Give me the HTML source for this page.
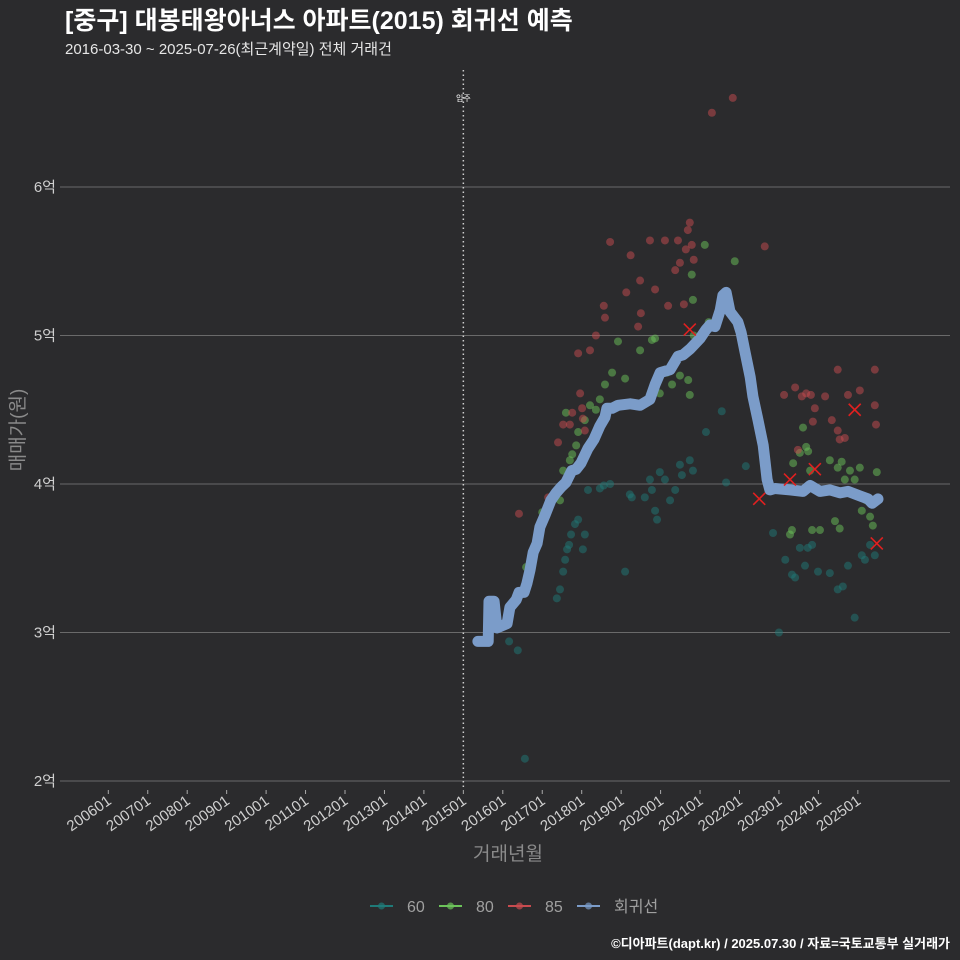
<!DOCTYPE html>
<html><head><meta charset="utf-8"><style>
html,body{margin:0;padding:0;background:#2b2b2d;}
svg{display:block;font-family:"Liberation Sans","Noto Sans CJK KR",sans-serif;}
</style></head><body>
<svg id="chart" width="960" height="960" viewBox="0 0 960 960" xmlns="http://www.w3.org/2000/svg">
<rect width="960" height="960" fill="#2b2b2d"/>
<text x="65" y="29" fill="#ffffff" font-size="25" font-weight="bold">[중구] 대봉태왕아너스 아파트(2015) 회귀선 예측</text>
<text x="65" y="54" fill="#e6e6e6" font-size="15">2016-03-30 ~ 2025-07-26(최근계약일) 전체 거래건</text>
<g id="grid"></g>
<g id="xaxis"></g>
<g id="yaxis"></g>
<g id="points"></g>
<g id="line"></g>
<g id="marks"></g>
<text x="0" y="0" transform="translate(24,430) rotate(-90)" text-anchor="middle" fill="#8a8a8a" font-size="19">매매가(원)</text>
<text x="508" y="860" text-anchor="middle" fill="#8a8a8a" font-size="19">거래년월</text>
<g id="legend"></g>
<text x="950" y="948" text-anchor="end" fill="#ffffff" font-size="13" font-weight="bold">©디아파트(dapt.kr) / 2025.07.30 / 자료=국토교통부 실거래가</text>
</svg>
<script>
const yTicks=[2,3,4,5,6];
const xTickYears=[2006,2007,2008,2009,2010,2011,2012,2013,2014,2015,2016,2017,2018,2019,2020,2021,2022,2023,2024,2025];
const moveInYear=2015.0;
const lineDates=[2015.37,2015.63,2015.65,2015.78,2015.85,2016.11,2016.18,2016.34,2016.41,2016.54,2016.61,2016.69,2016.77,2016.87,2016.94,2017.07,2017.22,2017.35,2017.48,2017.60,2017.75,2017.86,2017.98,2018.16,2018.31,2018.46,2018.59,2018.64,2018.77,2018.92,2019.23,2019.48,2019.73,2019.86,2019.99,2020.24,2020.44,2020.57,2020.75,2021.00,2021.15,2021.25,2021.38,2021.51,2021.58,2021.66,2021.76,2021.96,2022.04,2022.14,2022.27,2022.34,2022.47,2022.60,2022.70,2022.77,2022.90,2023.28,2023.61,2023.79,2024.04,2024.29,2024.55,2024.75,2025.05,2025.26,2025.36,2025.51];
const lineValues=[2.94,2.94,3.21,3.21,3.03,3.06,3.17,3.22,3.27,3.27,3.33,3.42,3.54,3.60,3.71,3.79,3.89,3.94,3.98,4.01,4.09,4.10,4.14,4.24,4.30,4.39,4.45,4.51,4.51,4.53,4.54,4.53,4.57,4.67,4.75,4.77,4.86,4.87,4.91,4.98,5.04,5.07,5.06,5.17,5.27,5.29,5.16,5.09,5.02,4.89,4.72,4.59,4.43,4.26,4.03,3.96,3.97,3.96,3.95,3.99,3.95,3.96,3.94,3.95,3.92,3.90,3.87,3.90];
const dates60=[2016.16,2016.38,2016.56,2016.72,2017.37,2017.45,2017.53,2017.58,2017.63,2017.68,2017.73,2017.83,2017.91,2018.03,2018.08,2018.16,2018.46,2018.56,2018.72,2019.10,2019.22,2019.27,2019.60,2019.73,2019.78,2019.86,2019.91,2019.98,2020.11,2020.24,2020.37,2020.49,2020.54,2020.74,2020.82,2021.15,2021.55,2021.66,2022.16,2022.85,2023.00,2023.16,2023.33,2023.41,2023.53,2023.66,2023.73,2023.84,2023.99,2024.29,2024.49,2024.62,2024.75,2024.92,2025.10,2025.18,2025.31,2025.43];
const values60=[2.94,2.88,2.15,3.43,3.23,3.29,3.41,3.49,3.56,3.59,3.66,3.73,3.76,3.56,3.66,3.96,3.97,3.99,4.00,3.41,3.93,3.91,3.91,4.03,3.96,3.82,3.76,4.08,4.03,3.89,3.96,4.13,4.06,4.16,4.09,4.35,4.49,4.01,4.12,3.67,3.00,3.49,3.39,3.37,3.57,3.45,3.57,3.59,3.41,3.40,3.29,3.31,3.45,3.10,3.52,3.49,3.59,3.52];
const dates80=[2016.59,2017.00,2017.15,2017.45,2017.53,2017.60,2017.70,2017.76,2017.86,2017.91,2018.08,2018.21,2018.36,2018.46,2018.59,2018.77,2018.92,2019.10,2019.48,2019.78,2019.86,2019.98,2020.16,2020.29,2020.49,2020.62,2020.70,2020.74,2020.79,2020.82,2020.84,2021.12,2021.22,2021.88,2023.28,2023.33,2023.36,2023.53,2023.61,2023.69,2023.74,2023.79,2023.84,2024.04,2024.29,2024.42,2024.49,2024.54,2024.59,2024.67,2024.80,2024.92,2025.05,2025.10,2025.21,2025.31,2025.38,2025.48];
const values80=[3.44,3.81,3.85,3.89,4.09,4.48,4.16,4.20,4.26,4.35,4.43,4.53,4.50,4.57,4.67,4.75,4.96,4.71,4.90,4.97,4.98,4.61,4.75,4.67,4.73,4.88,4.70,4.60,5.41,5.24,5.00,5.61,5.09,5.50,3.66,3.69,4.14,4.21,4.38,4.25,4.22,4.09,3.69,3.69,4.16,3.75,4.11,3.70,4.15,4.03,4.09,4.03,4.11,3.82,3.89,3.78,3.72,4.08];
const dates85=[2016.41,2017.15,2017.40,2017.53,2017.70,2017.76,2017.91,2017.96,2018.01,2018.03,2018.08,2018.21,2018.36,2018.56,2018.59,2018.72,2019.13,2019.24,2019.43,2019.48,2019.50,2019.73,2019.86,2020.11,2020.19,2020.37,2020.44,2020.49,2020.59,2020.64,2020.69,2020.74,2020.79,2020.84,2021.30,2021.83,2022.64,2023.13,2023.41,2023.48,2023.58,2023.69,2023.81,2023.86,2023.91,2024.17,2024.34,2024.49,2024.49,2024.54,2024.67,2024.75,2025.05,2025.43,2025.43,2025.46];
const values85=[3.80,3.91,4.28,4.40,4.40,4.48,4.88,4.61,4.51,4.44,4.36,4.90,5.00,5.20,5.12,5.63,5.29,5.54,5.06,5.37,5.15,5.64,5.31,5.64,5.20,5.44,5.64,5.49,5.21,5.58,5.71,5.76,5.61,5.51,6.50,6.60,5.60,4.60,4.65,4.23,4.59,4.61,4.60,4.42,4.51,4.59,4.43,4.77,4.36,4.30,4.31,4.60,4.63,4.77,4.53,4.40];
const markDates=[2020.74,2022.50,2023.28,2023.91,2024.92,2025.48];
const markValues=[5.04,3.90,4.03,4.10,4.50,3.60];

const NS="http://www.w3.org/2000/svg";
const X0=60,X1=950;
function xScale(d){return 108.3+39.45*(d-2006);}
function yScale(v){return 187+(6-v)*148.5;}
function mk(tag,attrs,parent){const e=document.createElementNS(NS,tag);for(const k in attrs)e.setAttribute(k,attrs[k]);parent.appendChild(e);return e;}
const grid=document.getElementById('grid'),xa=document.getElementById('xaxis'),ya=document.getElementById('yaxis');
yTicks.forEach(v=>{
  const l=mk('line',{x1:X0,x2:X1,y1:yScale(v),y2:yScale(v),stroke:'#6a6a6a','stroke-width':1},grid);
  
  
  const t=mk('text',{x:56,y:yScale(v)+5,'text-anchor':'end',fill:'#cfcfcf','font-size':15},ya);
  t.textContent=v+'억';
  
  
});
xTickYears.forEach(y=>{
  const x=xScale(y);
  const tk=mk('line',{x1:x,x2:x,y1:790,y2:794,stroke:'#aaa','stroke-width':1},xa);
  
  
  const t=mk('text',{x:0,y:0,transform:`translate(${x+4},${803}) rotate(-35)`,'text-anchor':'end',fill:'#d0d0d0','font-size':15},xa);
  t.textContent=y+'01';
  
  
});
const mv=mk('line',{x1:xScale(moveInYear),x2:xScale(moveInYear),y1:70,y2:790,stroke:'#cfcfcf','stroke-width':1.5,'stroke-dasharray':'1.5,3'},grid);


const mvt=mk('text',{x:xScale(moveInYear),y:101,'text-anchor':'middle',fill:'#fff','font-size':8},grid);
mvt.textContent='입주';



const pts=document.getElementById('points');
function drawSeries(ds,vs,col,name){
  ds.forEach((d,i)=>{
    const c=mk('circle',{cx:xScale(d),cy:yScale(vs[i]),r:4,fill:col,'fill-opacity':0.5},pts);
    
    
  });
}
drawSeries(dates60,values60,'#1f7a78','point-60');
drawSeries(dates80,values80,'#6cc35a','point-80');
drawSeries(dates85,values85,'#c84b4f','point-85');

const lp=lineDates.map((d,i)=>xScale(d).toFixed(1)+','+yScale(lineValues[i]).toFixed(1)).join(' ');
const pl=mk('polyline',{points:lp,fill:'none',stroke:'#7b9cc9','stroke-width':11,'stroke-linejoin':'round','stroke-linecap':'round'},document.getElementById('line'));



const marks=document.getElementById('marks');
markDates.forEach((d,i)=>{
  const x=xScale(d),y=yScale(markValues[i]);
  const p=mk('path',{d:`M${x-6},${y-6}L${x+6},${y+6}M${x-6},${y+6}L${x+6},${y-6}`,stroke:'#e02020','stroke-width':1.6},marks);
  
  
});

const lg=document.getElementById('legend');
const legItems=[['60','#1f7a78',370],['80','#6cc35a',439],['85','#c84b4f',508],['회귀선','#7b9cc9',577]];
legItems.forEach(([lab,col,x])=>{
  const g=mk('g',{},lg);
  
  
  mk('line',{x1:x,x2:x+23,y1:906,y2:906,stroke:col,'stroke-width':2},g);
  mk('circle',{cx:x+11.5,cy:906,r:3.5,fill:col,'fill-opacity':0.7},g);
  const t=mk('text',{x:x+37,y:912,fill:'#a0a0a0','font-size':16},g);
  t.textContent=lab;
});
</script>
</body></html>
